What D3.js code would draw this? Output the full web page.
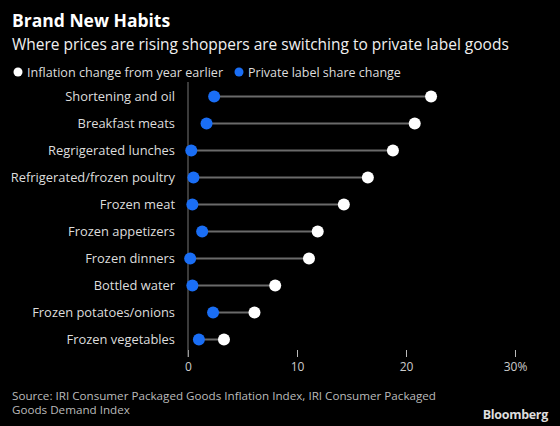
<!DOCTYPE html>
<html>
<head>
<meta charset="utf-8">
<script src="https://cdn.jsdelivr.net/npm/d3@7"></script>
<style>
  html, body { margin: 0; padding: 0; background: #000; }
  svg { display: block; }
  text { font-family: "Open Sans", "Noto Sans", sans-serif; }
</style>
</head>
<body>
<svg id="chart" width="560" height="426"></svg>
<script>
const categories = [
  "Shortening and oil",
  "Breakfast meats",
  "Regrigerated lunches",
  "Refrigerated/frozen poultry",
  "Frozen meat",
  "Frozen appetizers",
  "Frozen dinners",
  "Bottled water",
  "Frozen potatoes/onions",
  "Frozen vegetables"
];
const inflationChange = [22.3, 20.8, 18.8, 16.5, 14.3, 11.9, 11.1, 8.0, 6.1, 3.3];
const privateLabelChange = [2.4, 1.7, 0.3, 0.5, 0.4, 1.3, 0.2, 0.4, 2.3, 1.0];
const xTicks = [0, 10, 20, 30];
const xTickLabels = ["0", "10", "20", "30%"];

const svg = d3.select("#chart");
svg.append("rect").attr("width", 560).attr("height", 426).attr("fill", "#000");

const x = d3.scaleLinear().domain([0, 30]).range([188, 515]);
const y = d3.scaleBand().domain(categories).range([83, 353]).paddingInner(0).paddingOuter(0);
const yc = d => y(d) + y.bandwidth() / 2;

// Title
svg.append("text").attr("x", 12).attr("y", 27)
  .attr("fill", "#fff").attr("font-size", 17.5).attr("font-weight", 700)
  .text("Brand New Habits");
svg.append("text").attr("x", 12).attr("y", 50)
  .attr("fill", "#f0f0f0").attr("font-size", 15.5)
  .text("Where prices are rising shoppers are switching to private label goods");

// Legend
const leg = svg.append("g");
leg.append("circle").attr("cx", 18).attr("cy", 72).attr("r", 4.5).attr("fill", "#fff");
leg.append("text").attr("x", 27).attr("y", 76.5).attr("fill", "#ddd").attr("font-size", 12.6)
  .text("Inflation change from year earlier");
leg.append("circle").attr("cx", 239).attr("cy", 72).attr("r", 4.5).attr("fill", "#1a6ef5");
leg.append("text").attr("x", 248).attr("y", 76.5).attr("fill", "#ddd").attr("font-size", 12.5)
  .text("Private label share change");

// Axis (bottom ticks)
const axis = d3.axisBottom(x).tickValues(xTicks)
  .tickFormat((d, i) => xTickLabels[i]).tickSize(7).tickPadding(5);
const ax = svg.append("g").attr("transform", "translate(0,350)").call(axis);
ax.select(".domain").remove();
ax.selectAll(".tick line").attr("stroke", "#bbb").attr("stroke-width", 1);
ax.selectAll(".tick text").attr("fill", "#ccc").attr("font-size", 12)
  .attr("font-family", "'Open Sans', sans-serif");

// Zero line
svg.append("line").attr("x1", x(0)).attr("x2", x(0)).attr("y1", 82).attr("y2", 357)
  .attr("stroke", "#777").attr("stroke-width", 1);

// Category labels
svg.append("g").selectAll("text").data(categories).join("text")
  .attr("x", 175).attr("y", d => yc(d) + 4.5)
  .attr("text-anchor", "end").attr("fill", "#ddd").attr("font-size", 12.9)
  .text(d => d);

// Connectors
const rows = categories.map((c, i) => ({ c, a: privateLabelChange[i], b: inflationChange[i] }));
svg.append("g").selectAll("line").data(rows).join("line")
  .attr("x1", d => x(d.a)).attr("x2", d => x(d.b))
  .attr("y1", d => yc(d.c)).attr("y2", d => yc(d.c))
  .attr("stroke", "#6a6a6a").attr("stroke-width", 2);

svg.append("g").selectAll("circle").data(rows).join("circle")
  .attr("cx", d => x(d.b)).attr("cy", d => yc(d.c)).attr("r", 6)
  .attr("fill", "#fff");
svg.append("g").selectAll("circle").data(rows).join("circle")
  .attr("cx", d => x(d.a)).attr("cy", d => yc(d.c)).attr("r", 6)
  .attr("fill", "#1a6ef5");

// Source
svg.append("text").attr("x", 12).attr("y", 400).attr("fill", "#bbb").attr("font-size", 11.65)
  .text("Source: IRI Consumer Packaged Goods Inflation Index, IRI Consumer Packaged");
svg.append("text").attr("x", 12).attr("y", 414).attr("fill", "#bbb").attr("font-size", 11.65)
  .text("Goods Demand Index");
svg.append("text").attr("x", 548).attr("y", 419).attr("text-anchor", "end")
  .attr("fill", "#ddd").attr("font-size", 12.5).attr("font-weight", 700)
  .attr("font-family", "Arial, 'Liberation Sans', sans-serif")
  .attr("letter-spacing", -0.3)
  .text("Bloomberg");
</script>
</body>
</html>
